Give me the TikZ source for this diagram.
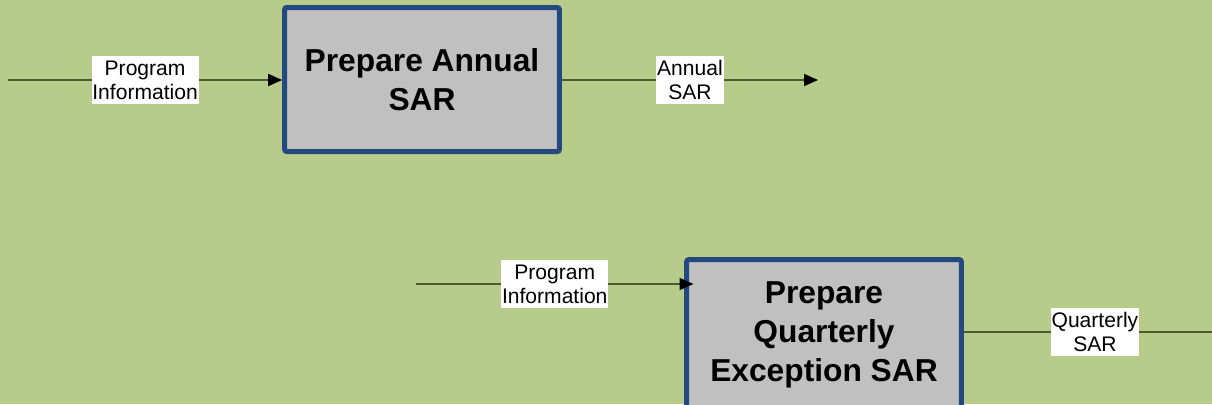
\documentclass[tikz,border=0pt]{standalone}
\usepackage{fontspec}
\setmainfont{Liberation Sans}
\usetikzlibrary{arrows.meta}

\definecolor{bggreen}{RGB}{183,203,138}
\definecolor{boxblue}{RGB}{36,72,128}
\definecolor{boxgray}{RGB}{192,192,192}
\definecolor{flowline}{RGB}{78,92,50}

\begin{document}
\begin{tikzpicture}[x=0.75pt, y=-0.75pt,
  task/.style={draw=boxblue, line width=3.75pt, fill=boxgray, rounded corners=1.5pt,
    minimum width=206pt, minimum height=108pt, align=center,
    font=\fontsize{23.8}{29.3}\selectfont\bfseries},
  flow/.style={draw=flowline, line width=1.3pt, -{Triangle[length=10.5pt, width=9pt, black]}},
  lbl/.style={fill=white, inner xsep=0.6pt, inner ysep=3.2pt, align=center,
    font=\fontsize{15.8}{18}\selectfont}]

% Background
\useasboundingbox (0,0) rectangle (1212,404);
\clip (0,0) rectangle (1212,404);
\fill[bggreen] (0,0) rectangle (1212,404);

% Boxes
\node[task] (annual) at (422,79.5) {Prepare Annual\\SAR};
\node[task, minimum height=113pt] (quarterly) at (824,335) {Prepare\\Quarterly\\Exception SAR};

% Free ends
\coordinate (annualin) at (8,80);
\coordinate (annualout) at (818,80);
\coordinate (quarterlyin) at (416,284);
\coordinate (quarterlyout) at (1226,332);

% Arrows
\draw[flow] (annualin) -- node[lbl] (proginfoa) {Program\\Information} (annual.west |- annualin);
\draw[flow] (annual.east |- annualout) -- node[lbl] (annualsar) {Annual\\SAR} (annualout);
\draw[flow] (quarterlyin) -- node[lbl] (proginfoq) {Program\\Information} ([xshift=7pt]quarterly.west |- quarterlyin);
\draw[flow] (quarterly.east |- quarterlyout) -- node[lbl] (quarterlysar) {Quarterly\\SAR} (quarterlyout);

\end{tikzpicture}
\end{document}
